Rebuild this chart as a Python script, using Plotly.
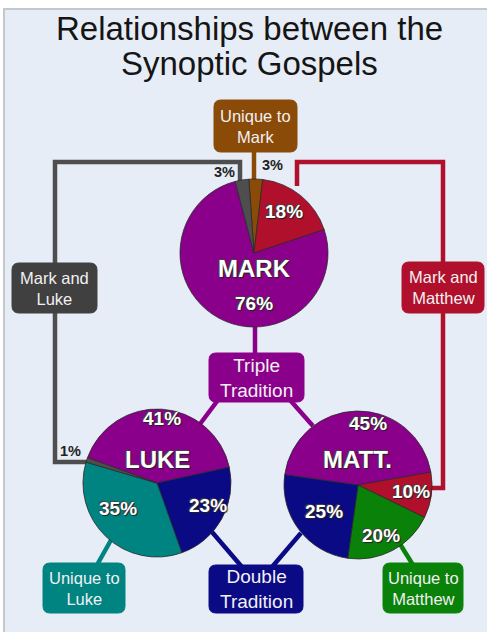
import plotly.graph_objects as go

# ---------------- data ----------------
title_lines = ["Relationships between the", "Synoptic Gospels"]

gospels = ["MARK", "LUKE", "MATT."]

mark_labels = ["Unique to Mark", "Mark and Matthew", "Triple Tradition", "Mark and Luke"]
mark_values = [3, 18, 76, 3]

luke_labels = ["Triple Tradition", "Double Tradition", "Unique to Luke", "Mark and Luke"]
luke_values = [41, 23, 35, 1]

matt_labels = ["Triple Tradition", "Mark and Matthew", "Unique to Matthew", "Double Tradition"]
matt_values = [45, 10, 20, 25]

box_texts = ["Unique to<br>Mark", "Mark and<br>Luke", "Mark and<br>Matthew", "Triple<br>Tradition",
             "Unique to<br>Luke", "Double<br>Tradition", "Unique to<br>Matthew"]
box_keys = ["Unique to Mark", "Mark and Luke", "Mark and Matthew", "Triple Tradition",
            "Unique to Luke", "Double Tradition", "Unique to Matthew"]

# ---------------- styles / layout ----------------
W, H = 487, 632
COL = {
    "Unique to Mark": "#8A4A08",
    "Mark and Matthew": "#B0102C",
    "Triple Tradition": "#8B008B",
    "Mark and Luke": "#4E4E4E",
    "Double Tradition": "#0A0A84",
    "Unique to Luke": "#008482",
    "Unique to Matthew": "#0A820A",
}
BOX_COL = dict(COL)
BOX_COL["Mark and Luke"] = "#404040"
BG = "#E7EDF6"
FONT = "Arial, Liberation Sans, sans-serif"

# pie geometry: center x, center y, radius (pixels), rotation
pie_geo = {
    "MARK": (254, 253, 74, -4),
    "LUKE": (157, 483, 74, -70),
    "MATT.": (358, 485, 74, -82),
}

# boxes: x0, x1, y0, y1
box_pos = {
    "Unique to Mark": (214, 297, 100, 152),
    "Mark and Luke": (12, 97, 263, 313),
    "Mark and Matthew": (402, 484, 262, 313),
    "Triple Tradition": (209, 304, 353, 402),
    "Unique to Luke": (43, 125, 563, 613),
    "Double Tradition": (209, 303, 565, 613),
    "Unique to Matthew": (383, 463, 563, 613),
}
box_font = {k: 16.5 for k in box_keys}
box_font["Triple Tradition"] = 19
box_font["Double Tradition"] = 19

# connector polylines
connectors = [
    ("Unique to Mark", [(254, 150), (254, 182)]),
    ("Mark and Luke", [(240, 184), (240, 162), (55, 162), (55, 462), (88, 462)]),
    ("Mark and Matthew", [(297, 186), (297, 162), (443, 162), (443, 488), (431, 488)]),
    ("Triple Tradition", [(255, 325), (255, 355)]),
    ("Triple Tradition", [(218, 400), (200, 424)]),
    ("Triple Tradition", [(290, 400), (313, 426)]),
    ("Double Tradition", [(212, 532), (242, 567)]),
    ("Double Tradition", [(301, 533), (272, 567)]),
    ("Unique to Luke", [(111, 540), (97, 565)]),
    ("Unique to Matthew", [(400, 544), (413, 565)]),
]

# label positions (pixels)
name_pos = {"MARK": (254, 268), "LUKE": (157, 459), "MATT.": (357, 459)}
pct_pos = {
    "MARK": [(272, 165), (284, 211), (254, 303), (224, 172)],
    "LUKE": [(162, 418), (208, 505), (118, 508), (70, 451)],
    "MATT.": [(368, 423), (411, 491), (381, 535), (324, 511)],
}
pct_dark = {"MARK": [True, False, False, True], "LUKE": [False, False, False, True],
            "MATT.": [False, False, False, False]}

fig = go.Figure()

series = {"MARK": (mark_labels, mark_values), "LUKE": (luke_labels, luke_values),
          "MATT.": (matt_labels, matt_values)}

for g in gospels:
    labels, values = series[g]
    cx, cy, r, rot = pie_geo[g]
    fig.add_trace(go.Pie(
        labels=labels, values=values, sort=False, direction="clockwise", rotation=rot,
        marker=dict(colors=[COL[l] for l in labels], line=dict(color="#2a2a2a", width=0.8)),
        textinfo="none", hoverinfo="label+percent", showlegend=False,
        domain=dict(x=[(cx - r) / W, (cx + r) / W], y=[1 - (cy + r) / H, 1 - (cy - r) / H]),
    ))

shapes = []
# frame / background
shapes.append(dict(type="rect", xref="x", yref="y", x0=4, x1=W + 5, y0=9, y1=H + 5,
                   fillcolor=BG, line=dict(color="#C4C8CE", width=2), layer="below"))

for key, pts in connectors:
    path = "M " + " L ".join(f"{x},{y}" for x, y in pts)
    shapes.append(dict(type="path", xref="x", yref="y", path=path,
                       line=dict(color=COL[key], width=4.5), layer="below"))


def rounded(x0, x1, y0, y1, rr=7):
    return (f"M {x0+rr},{y0} L {x1-rr},{y0} Q {x1},{y0} {x1},{y0+rr} L {x1},{y1-rr} "
            f"Q {x1},{y1} {x1-rr},{y1} L {x0+rr},{y1} Q {x0},{y1} {x0},{y1-rr} "
            f"L {x0},{y0+rr} Q {x0},{y0} {x0+rr},{y0} Z")


annotations = []
for key, txt in zip(box_keys, box_texts):
    x0, x1, y0, y1 = box_pos[key]
    shapes.append(dict(type="path", xref="x", yref="y", path=rounded(x0, x1, y0, y1),
                       fillcolor=BOX_COL[key], line=dict(color=BOX_COL[key], width=1), layer="below"))
    annotations.append(dict(x=(x0 + x1) / 2, y=(y0 + y1) / 2, xref="x", yref="y", text=txt,
                            showarrow=False, font=dict(family=FONT, size=box_font[key], color="#F2F0F2"),
                            align="center"))

# title
for t, y in zip(title_lines, [28, 63]):
    annotations.append(dict(x=249, y=y, xref="x", yref="y", text=t, showarrow=False,
                            font=dict(family=FONT, size=33, color="#151515")))

shadow = "1px 1px 1px #222, -1px -1px 1px #444"
for g in gospels:
    labels, values = series[g]
    x, y = name_pos[g]
    annotations.append(dict(x=x, y=y, xref="x", yref="y", text=f"<b>{g}</b>", showarrow=False,
                            font=dict(family=FONT, size=24, color="white", shadow=shadow)))
    for v, (px, py), dark in zip(values, pct_pos[g], pct_dark[g]):
        if dark:
            f = dict(family=FONT, size=14.5, color="#222")
        else:
            f = dict(family=FONT, size=19, color="white", shadow=shadow)
        annotations.append(dict(x=px, y=py, xref="x", yref="y", text=f"<b>{v}%</b>",
                                showarrow=False, font=f))

fig.update_layout(
    width=W, height=H, margin=dict(l=0, r=0, t=0, b=0),
    paper_bgcolor="white", plot_bgcolor="white",
    xaxis=dict(range=[0, W], visible=False, fixedrange=True),
    yaxis=dict(range=[H, 0], visible=False, fixedrange=True),
    shapes=shapes, annotations=annotations, showlegend=False,
)

fig.write_html(
    "out.html",
    config={"displayModeBar": False},
    post_script="document.body.style.margin='0';document.body.style.overflow='hidden';",
)
